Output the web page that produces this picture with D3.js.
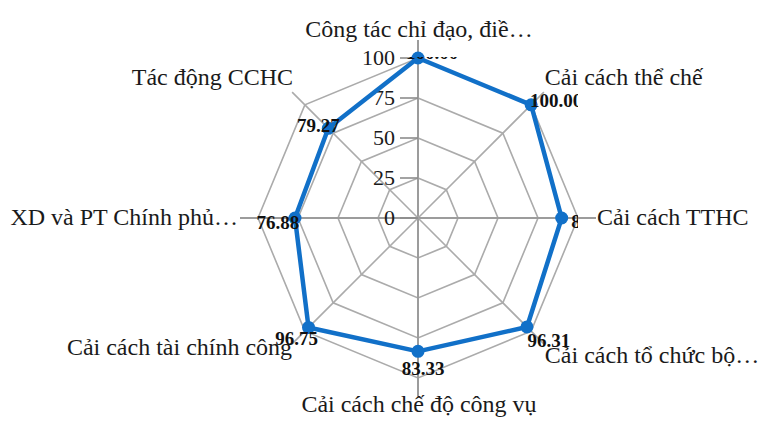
<!DOCTYPE html>
<html>
<head>
<meta charset="utf-8">
<script src="https://cdn.jsdelivr.net/npm/d3@7/dist/d3.min.js"></script>
<style>
  html, body { margin: 0; padding: 0; background: #fff; }
  svg { display: block; }
  text { font-family: "Liberation Serif", "Times New Roman", serif; fill: #1a1a1a; }
</style>
</head>
<body>
<script>
// Radar chart: administrative reform index by component
const categories = [
  "Công tác chỉ đạo, điề…",
  "Cải cách thể chế",
  "Cải cách TTHC",
  "Cải cách tổ chức bộ…",
  "Cải cách chế độ công vụ",
  "Cải cách tài chính công",
  "XD và PT Chính phủ…",
  "Tác động CCHC"
];
const values = [100, 100, 89.8, 96.31, 83.33, 96.75, 76.88, 79.27];
const tickValues = [0, 25, 50, 75, 100];
const ringValues = [25, 50, 75, 100];

// Layout
const W = 759, H = 421;
const cx = 418, cy = 218, R = 160, spokeLen = 178;
// category label offsets from the spoke end: [dx, dy, anchor]
const catLayout = [
  [1, -3, "middle"], [1, -7, "start"], [1, 7, "start"], [1, 19, "start"],
  [1, 16, "middle"], [0, 11, "end"], [-2, 7, "end"], [1, -7, "end"]
];
// value label offsets from the marker: [dx of text centre, dy of baseline]
const valLayout = [
  [14, 1], [25, 2], [31, 10], [22, 20], [5, 24], [-12, 18], [-17, 11], [-10, 4]
];

const svg = d3.select("body").append("svg")
  .attr("width", W).attr("height", H);

const r = d3.scaleLinear().domain([0, 100]).range([0, R]);
const angle = d3.scaleLinear().domain([0, categories.length]).range([0, 2 * Math.PI]);
const px = (i, rad) => cx + rad * Math.sin(angle(i));
const py = (i, rad) => cy - rad * Math.cos(angle(i));

// plot-area clip for value labels
svg.append("clipPath").attr("id", "plotClip")
  .append("rect").attr("x", 250).attr("y", 57).attr("width", 328).attr("height", 330);

// rings
const g = svg.append("g");
const ringLine = d3.lineRadial().angle((d, i) => angle(i)).radius(d => r(d)).curve(d3.curveLinearClosed);
g.selectAll("path.ring").data(ringValues).join("path")
  .attr("class", "ring")
  .attr("transform", `translate(${cx},${cy})`)
  .attr("d", v => ringLine(categories.map(() => v)))
  .attr("fill", "none")
  .attr("stroke", "#ababab")
  .attr("stroke-width", 1.6);

// spokes
g.selectAll("line.spoke").data(categories).join("line")
  .attr("class", "spoke")
  .attr("x1", cx).attr("y1", cy)
  .attr("x2", (d, i) => px(i, spokeLen))
  .attr("y2", (d, i) => py(i, spokeLen))
  .attr("stroke", (d, i) => i % 2 === 0 ? "#9c9c9c" : "#ababab")
  .attr("stroke-width", (d, i) => i % 2 === 0 ? 2 : 1.6);

// value axis ticks and labels
g.selectAll("line.tick").data(tickValues).join("line")
  .attr("class", "tick")
  .attr("x1", cx - 18).attr("x2", cx)
  .attr("y1", d => cy - r(d)).attr("y2", d => cy - r(d))
  .attr("stroke", "#8c8c8c").attr("stroke-width", 1.6);
g.selectAll("text.tick").data(tickValues).join("text")
  .attr("class", "tick")
  .attr("x", cx - 23)
  .attr("y", d => cy - r(d))
  .attr("dy", "0.33em")
  .attr("text-anchor", "end")
  .attr("font-size", 22)
  .text(d => d);

// category labels
svg.append("g").selectAll("text").data(categories).join("text")
  .attr("x", (d, i) => px(i, spokeLen) + catLayout[i][0])
  .attr("y", (d, i) => py(i, spokeLen) + catLayout[i][1])
  .attr("text-anchor", (d, i) => catLayout[i][2])
  .attr("font-size", 24)
  .text(d => d);

// series
const blue = "#1170c8";
const seriesLine = d3.lineRadial().angle((d, i) => angle(i)).radius(d => r(d)).curve(d3.curveLinearClosed);
svg.append("path")
  .attr("transform", `translate(${cx},${cy})`)
  .attr("d", seriesLine(values))
  .attr("fill", "none")
  .attr("stroke", blue)
  .attr("stroke-width", 4.5)
  .attr("stroke-linejoin", "round");
svg.append("g").selectAll("circle").data(values).join("circle")
  .attr("cx", (d, i) => px(i, r(d)))
  .attr("cy", (d, i) => py(i, r(d)))
  .attr("r", 6.5)
  .attr("fill", blue);

// value labels, clipped to the plot area
svg.append("g").attr("clip-path", "url(#plotClip)")
  .selectAll("text").data(values).join("text")
  .attr("x", (d, i) => px(i, r(d)) + valLayout[i][0])
  .attr("y", (d, i) => py(i, r(d)) + valLayout[i][1])
  .attr("text-anchor", "middle")
  .attr("font-size", 19)
  .attr("font-weight", "bold")
  .style("fill", "#111")
  .text(d => d3.format(".2f")(d));
</script>
</body>
</html>
